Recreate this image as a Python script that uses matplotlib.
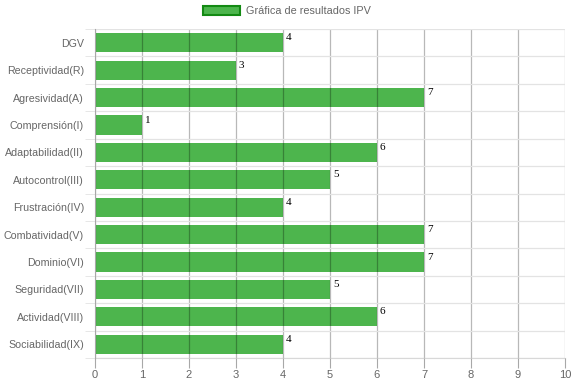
import numpy as np
import matplotlib.pyplot as plt
from matplotlib.patches import Patch

categorias = ['DGV', 'Receptividad(R)', 'Agresividad(A)', 'Comprensión(I)',
              'Adaptabilidad(II)', 'Autocontrol(III)', 'Frustración(IV)',
              'Combatividad(V)', 'Dominio(VI)', 'Seguridad(VII)',
              'Actividad(VIII)', 'Sociabilidad(IX)']
valores = [4, 3, 7, 1, 6, 5, 4, 7, 7, 5, 6, 4]

verde = '#4db54d'
gris_txt = '#666666'

plt.rcParams['font.family'] = ['Liberation Sans', 'DejaVu Sans']

fig = plt.figure(figsize=(5.74, 3.83), dpi=100)
ax = fig.add_axes([95/574, 1 - 358/383, 470/574, 329/383])
ax.set_axisbelow(False)

y = np.arange(len(categorias))
ax.barh(y, valores, height=0.7, color=verde, zorder=2)

# etiquetas de valor al final de cada barra
for i, v in enumerate(valores):
    ax.text(v + 0.06, i - 0.18, str(v), fontsize=8, family='Liberation Serif',
            color='black', va='center', ha='left', zorder=4)

ax.set_xlim(0, 10)
ax.set_ylim(len(categorias) - 0.5, -0.5)
ax.set_xticks(range(11))
ax.set_yticks(y)
ax.set_yticklabels(categorias)
ax.set_yticks(np.arange(-0.5, len(categorias)), minor=True)

ax.tick_params(axis='x', length=7, color='#a8a8a8', labelcolor=gris_txt,
               labelsize=8, pad=2)
ax.tick_params(axis='y', which='major', length=0, labelcolor=gris_txt,
               labelsize=7.7, pad=8)
ax.tick_params(axis='y', which='minor', length=7, color='#e3e3e3')

ax.grid(axis='x', color='black', alpha=0.28, linewidth=0.9, zorder=3)
ax.grid(axis='y', which='minor', color='#e3e3e3', linewidth=0.9, zorder=1)

for s in ['top', 'right']:
    ax.spines[s].set_visible(False)
ax.spines['left'].set_color('#a8a8a8')
ax.spines['left'].set_zorder(3)
ax.spines['bottom'].set_color('#d8d8d8')

fig.legend(handles=[Patch(facecolor=verde, edgecolor='#138a13', linewidth=1.5)],
           labels=['Gráfica de resultados IPV'], loc='upper center',
           bbox_to_anchor=(0.5, 1.01), frameon=False, fontsize=7.8,
           handlelength=3.4, handleheight=0.9, labelcolor=gris_txt,
           handletextpad=0.6)

fig.savefig('out.png', dpi=100)
